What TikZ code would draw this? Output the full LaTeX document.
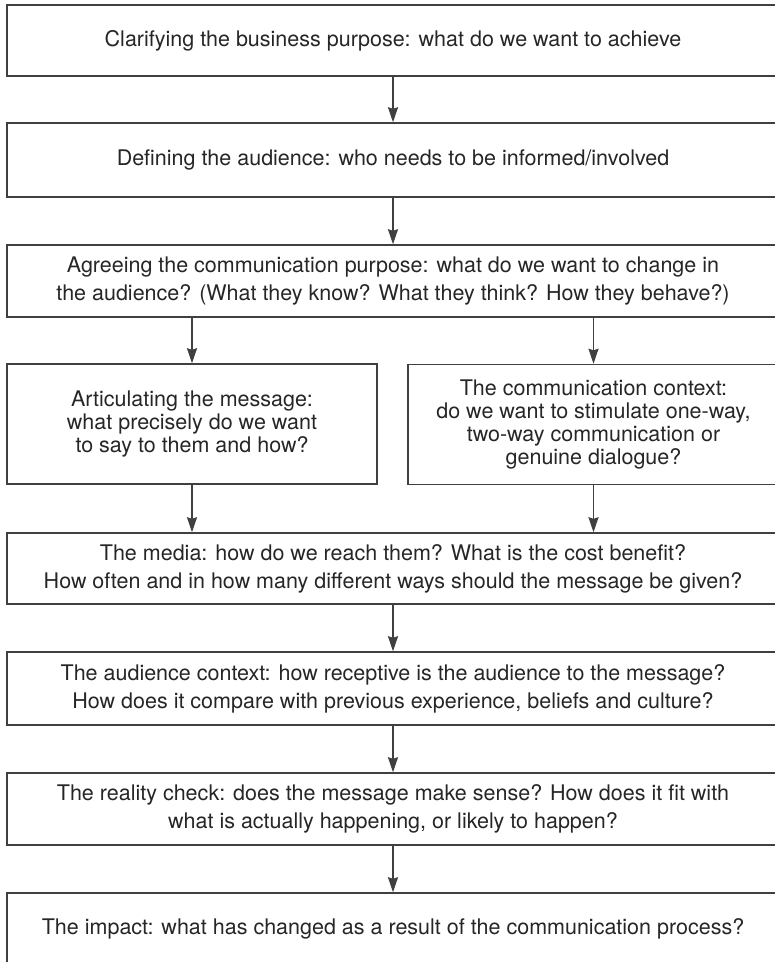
\documentclass[tikz,border=0pt]{standalone}
\usepackage{fontspec}
\setmainfont{TeX Gyre Heros}
\usetikzlibrary{arrows.meta}
\definecolor{ink}{HTML}{262626}
\definecolor{rule}{HTML}{404040}
\begin{document}
\begin{tikzpicture}[x=1pt,y=-1pt,
  stagebox/.style={draw=rule, line width=1.5pt, inner sep=0pt, align=center,
    text=ink, minimum width=772pt,
    font={\fontsize{21.5}{28}\selectfont}},
  sidebox/.style={draw=rule, line width=1.5pt, inner sep=0pt, align=center,
    text=ink, minimum width=370pt, minimum height=120pt,
    font={\fontsize{21.5}{23.3}\selectfont}},
  flow/.style={draw=rule, line width=1.5pt,
    -{Stealth[length=15pt,width=10pt,inset=1.5pt]}}]
\clip (0,0) rectangle (775,962);
\fill[white] (0,0) rectangle (775,962);

\node[stagebox, minimum height=71pt] (purpose) at (393,40.5)
  {Clarifying the business purpose: what do we want to achieve};
\node[stagebox, minimum height=74pt] (audience) at (393,160)
  {Defining the audience: who needs to be informed/involved};
\node[stagebox, minimum height=72pt] (commpurpose) at (393,281)
  {Agreeing the communication purpose: what do we want to change in\\
   the audience? (What they know? What they think? How they behave?)};
\node[sidebox] (message) at (192,424)
  {Articulating the message:\\what precisely do we want\\to say to them and how?};
\node[sidebox, minimum width=371pt] (context) at (593.5,424.5)
  {The communication context:\\do we want to stimulate one-way,\\
   two-way communication or\\genuine dialogue?};
\node[stagebox, minimum height=71pt] (media) at (393,568.5)
  {The media: how do we reach them? What is the cost benefit?\\
   How often and in how many different ways should the message be given?};
\node[stagebox, minimum height=73pt] (audctx) at (393,688.5)
  {The audience context: how receptive is the audience to the message?\\
   How does it compare with previous experience, beliefs and culture?};
\node[stagebox, minimum height=72pt] (reality) at (393,809)
  {The reality check: does the message make sense? How does it fit with\\
   what is actually happening, or likely to happen?};
\node[stagebox, minimum height=72pt] (impact) at (393,929)
  {The impact: what has changed as a result of the communication process?};

\draw[flow] (purpose) -- (audience);
\draw[flow] (audience) -- (commpurpose);
\draw[flow] (commpurpose.south -| message.north) -- (message.north);
\draw[flow] (commpurpose.south -| context.north) -- (context.north);
\draw[flow] (message.south) -- (message.south |- media.north);
\draw[flow] (context.south) -- (context.south |- media.north);
\draw[flow] (media) -- (audctx);
\draw[flow] (audctx) -- (reality);
\draw[flow] (reality) -- (impact);
\end{tikzpicture}
\end{document}
